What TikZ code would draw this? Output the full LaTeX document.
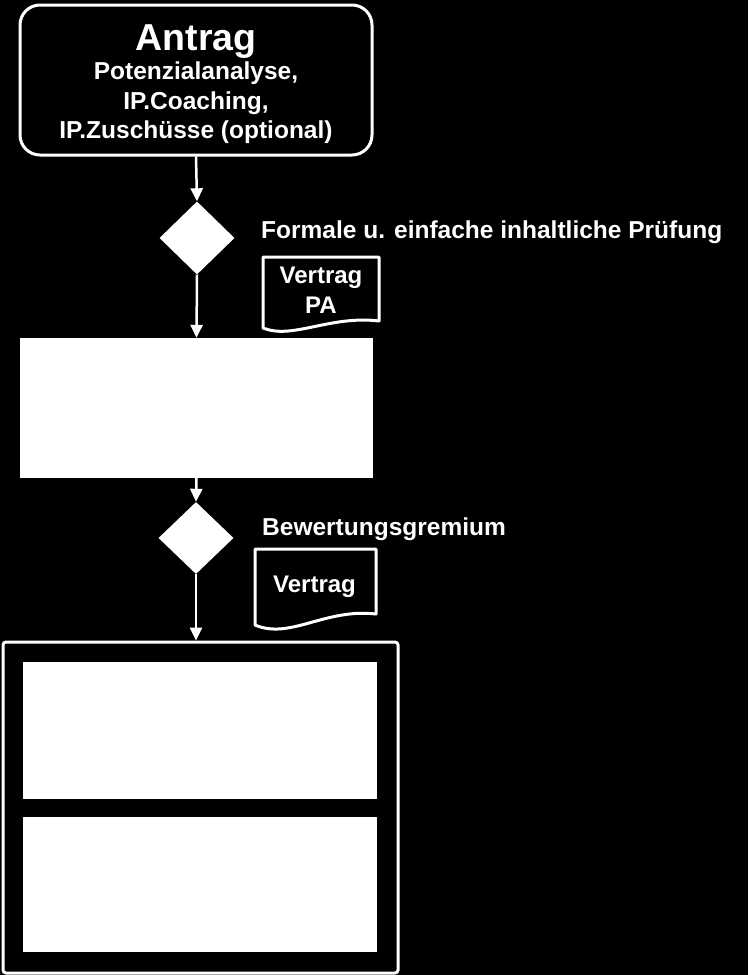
\documentclass[tikz,border=0pt]{standalone}
\usepackage{fontspec}
\setmainfont{Liberation Sans}
\usetikzlibrary{shapes.geometric,arrows.meta}

\begin{document}
\begin{tikzpicture}[x=1pt,y=-1pt,
    antragbox/.style={draw=white, line width=3pt, rounded corners=20pt, fill=black, minimum width=352pt, minimum height=150pt, inner sep=0pt},
    entscheid/.style={diamond, fill=white, minimum width=75pt, minimum height=73pt, inner sep=0pt},
    feld/.style={fill=white, minimum width=354pt, minimum height=137pt, inner sep=0pt},
    rahmen/.style={draw=white, line width=3pt, rounded corners=3pt, minimum width=395pt, minimum height=331pt, inner sep=0pt},
    dokument/.style={draw=white, fill=black, line width=3pt, line join=round},
    weiss/.style={text=white, inner sep=0pt, font=\fontsize{24.5}{29.5}\selectfont\bfseries},
    pfeil/.style={draw=white, line width=2.5pt, -{Triangle[length=13pt,width=12pt]}}]
    \fill[black] (0,0) rectangle (748,975);

    \node[antragbox] (antrag) at (196,80) {};
    \node[weiss, anchor=base, font=\fontsize{37.5}{40}\selectfont\bfseries] (antragtitel) at (196,50) {Antrag};
    \node[weiss, align=center] (antraginhalt) at (196,103)
        {Potenzialanalyse,\\IP.Coaching,\\IP.Zusch\"usse (optional)};

    \node[entscheid] (pruefung) at (197,238) {};
    \node[weiss, anchor=base west] (pruefungtext) at (261,238) {Formale u. einfache inhaltliche Pr\"ufung};
    \draw[dokument] (263,257) -- (379,257) -- (379,321) .. controls (330,315) and (292,340) .. (263,328) -- cycle;
    \node[weiss, align=center, font=\fontsize{24}{30}\selectfont\bfseries] (vertragpa) at (321,290) {Vertrag\\PA};

    \node[feld, minimum width=353pt, minimum height=140pt] (feldeins) at (196.5,408) {};

    \node[entscheid, minimum height=72pt] (gremium) at (196,538) {};
    \node[weiss, anchor=base west] (gremiumtext) at (262,535) {Bewertungsgremium};
    \draw[dokument] (255,549) -- (376,549) -- (376,614) .. controls (325,608) and (290,640) .. (255,625) -- cycle;
    \node[weiss, anchor=base, font=\fontsize{24}{30}\selectfont\bfseries] (vertrag) at (314.5,592) {Vertrag};

    \node[rahmen] (bereich) at (200.5,807.5) {};
    \node[feld] (feldzwei) at (200,730) {};
    \node[feld, minimum height=135pt] (felddrei) at (200,884.5) {};

    \draw[pfeil] (antrag.south) -- (pruefung.north);
    \draw[pfeil] (pruefung.south) -- (feldeins.north);
    \draw[pfeil] (feldeins.south) -- (gremium.north);
    \draw[pfeil] (gremium.south) -- (gremium.south |- bereich.north);
\end{tikzpicture}
\end{document}
